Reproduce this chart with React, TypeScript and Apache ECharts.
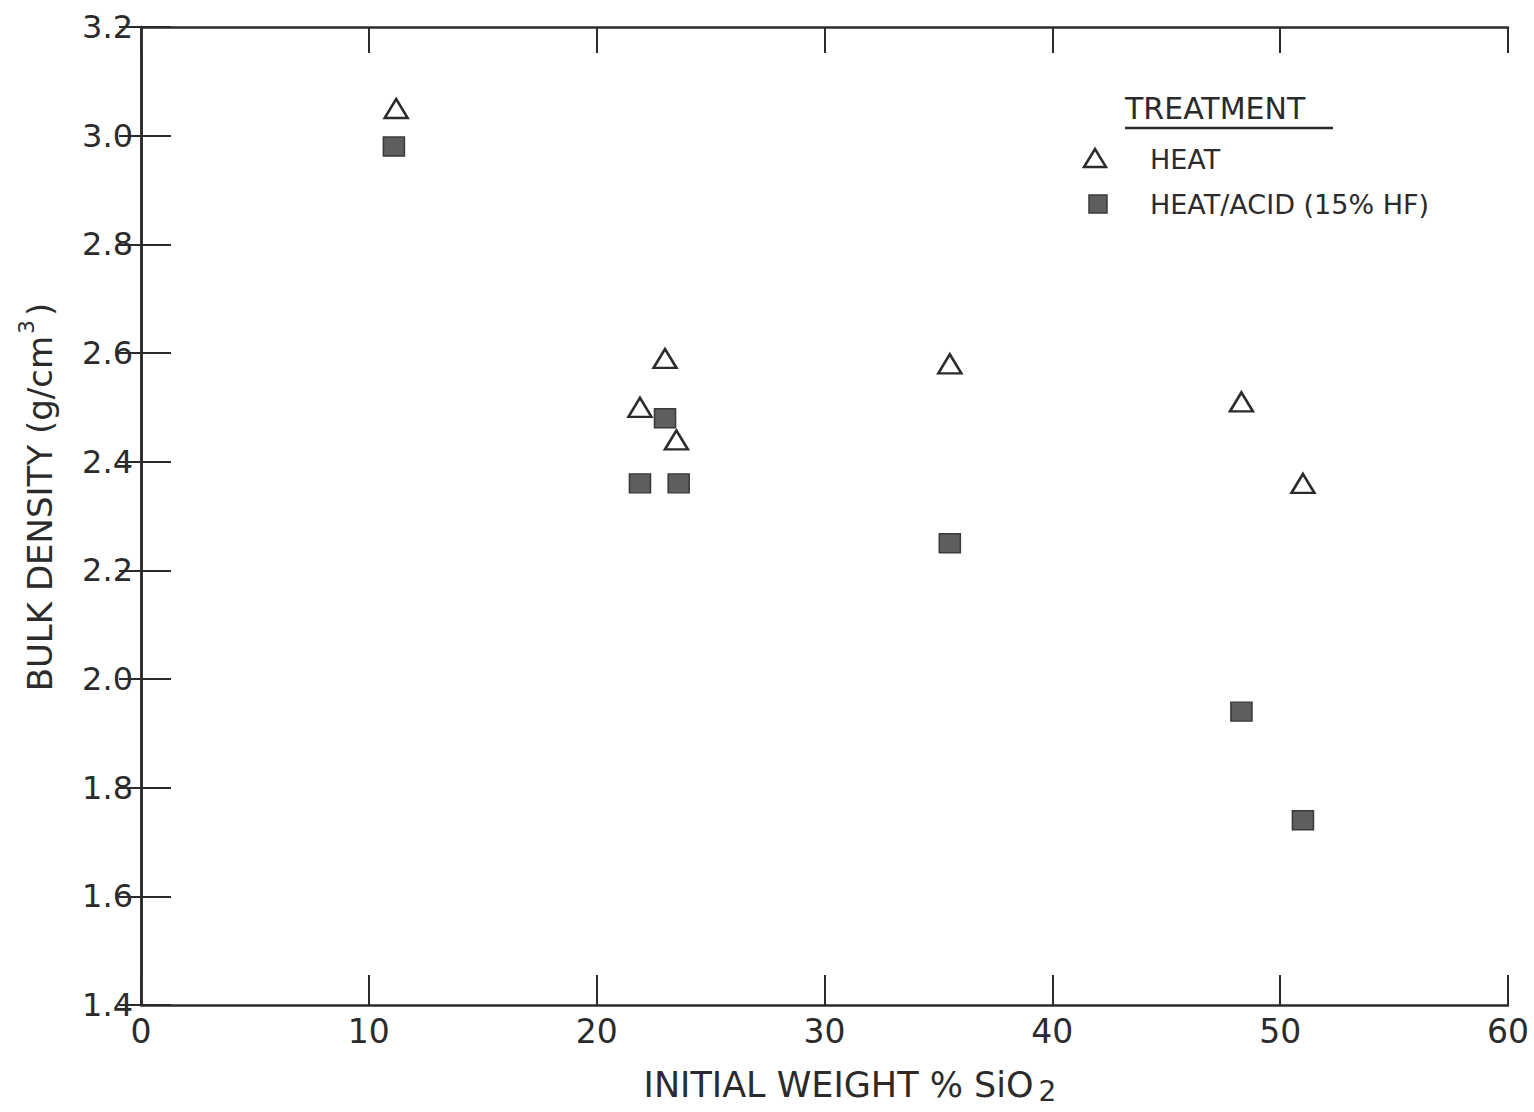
import React, { useEffect, useRef } from "react";
import * as echarts from "echarts";

// Initial weight % SiO2 (x) and bulk density g/cm3 (y)
const heatSiO2 = [11.2, 21.9, 23.0, 23.5, 35.5, 48.3, 51.0];
const heatDensity = [3.05, 2.5, 2.59, 2.44, 2.58, 2.51, 2.36];
const acidSiO2 = [11.1, 21.9, 23.0, 23.6, 35.5, 48.3, 51.0];
const acidDensity = [2.98, 2.36, 2.48, 2.36, 2.25, 1.94, 1.74];

const xTicks = { min: 0, max: 60, interval: 10 };
const yTicks = { min: 1.4, max: 3.2, interval: 0.2 };

const legendTitle = "TREATMENT";
const seriesNames = ["HEAT", "HEAT/ACID (15% HF)"];
const xName = ["INITIAL WEIGHT % SiO", "2"];
const yName = ["BULK DENSITY (g/cm", "3", ")"];

const INK = "#2b2b2b";
const FONT = "DejaVu Sans";
const SQUARE_FILL = "#5e5e5e";

export default function App() {
  const ref = useRef<HTMLDivElement>(null);

  useEffect(() => {
    document.body.style.margin = "0";
    const chart = echarts.init(ref.current!, null, { renderer: "svg" });

    const lineStyle = { color: INK, width: 2.5 };
    const baseAxis = {
      type: "value" as const,
      splitLine: { show: false },
      axisLine: { show: true, lineStyle },
    };

    chart.setOption({
      animation: false,
      backgroundColor: "#ffffff",
      grid: { left: 141, right: 26, top: 27, bottom: 107, containLabel: false },
      xAxis: [
        {
          ...baseAxis,
          position: "bottom",
          min: xTicks.min,
          max: xTicks.max,
          interval: xTicks.interval,
          axisTick: { show: true, inside: true, length: 30, lineStyle: { color: INK, width: 2 } },
          axisLabel: {
            show: true,
            margin: 10,
            fontSize: 33,
            fontFamily: FONT,
            color: INK,
            formatter: (v: number) => String(v),
          },
        },
        {
          ...baseAxis,
          position: "top",
          min: xTicks.min,
          max: xTicks.max,
          interval: xTicks.interval,
          axisTick: { show: true, inside: true, length: 26, lineStyle: { color: INK, width: 2 } },
          axisLabel: { show: false },
        },
      ],
      yAxis: [
        {
          ...baseAxis,
          position: "left",
          min: yTicks.min,
          max: yTicks.max,
          interval: yTicks.interval,
          axisTick: { show: true, inside: true, length: 30, lineStyle: { color: INK, width: 2 } },
          axisLabel: {
            show: true,
            margin: 8,
            fontSize: 32,
            fontFamily: FONT,
            color: INK,
            formatter: (v: number) => v.toFixed(1),
          },
        },
        {
          ...baseAxis,
          position: "right",
          min: yTicks.min,
          max: yTicks.max,
          interval: yTicks.interval,
          axisTick: { show: true, inside: true, length: 22, lineStyle: { color: INK, width: 2 } },
          axisLabel: { show: false },
        },
      ],
      series: [
        {
          name: seriesNames[0],
          type: "scatter",
          xAxisIndex: 0,
          yAxisIndex: 0,
          symbol: "triangle",
          symbolSize: [23, 19],
          itemStyle: { color: "#ffffff", borderColor: INK, borderWidth: 2.5, opacity: 1 },
          data: heatSiO2.map((x, i) => [x, heatDensity[i]]),
        },
        {
          name: seriesNames[1],
          type: "scatter",
          xAxisIndex: 0,
          yAxisIndex: 0,
          symbol: "rect",
          symbolSize: [21, 19],
          itemStyle: { color: SQUARE_FILL, borderColor: "#3a3a3a", borderWidth: 1.5, opacity: 1 },
          data: acidSiO2.map((x, i) => [x, acidDensity[i]]),
        },
      ],
      graphic: [
        {
          type: "text",
          x: 850,
          y: 1067,
          style: {
            text: `{a|${xName[0]}}{sub|${xName[1]}}`,
            align: "center",
            verticalAlign: "top",
            fill: INK,
            rich: {
              a: { fontSize: 35, fontFamily: FONT, fill: INK, verticalAlign: "top" },
              sub: { fontSize: 28, fontFamily: FONT, fill: INK, verticalAlign: "top", padding: [10, 0, 0, 5] },
            },
          },
        },
        {
          type: "text",
          x: 36,
          y: 497,
          rotation: Math.PI / 2,
          style: {
            text: `{a|${yName[0]}}{sup|${yName[1]}}{a|${yName[2]}}`,
            align: "center",
            verticalAlign: "middle",
            fill: INK,
            rich: {
              a: { fontSize: 34, fontFamily: FONT, fill: INK, verticalAlign: "bottom", padding: [8, 0, 0, 0] },
              sup: { fontSize: 22, fontFamily: FONT, fill: INK, verticalAlign: "top", padding: [0, 4, 0, 2] },
            },
          },
        },
        {
          type: "text",
          x: 1125,
          y: 108,
          style: {
            text: legendTitle,
            fontSize: 30,
            fontFamily: FONT,
            fill: INK,
            align: "left",
            verticalAlign: "middle",
          },
        },
        {
          type: "line",
          shape: { x1: 1125, y1: 128, x2: 1333, y2: 128 },
          style: { stroke: INK, lineWidth: 2.5 },
        },
        {
          type: "polygon",
          shape: { points: [[1084, 167], [1106, 167], [1095, 149]] },
          style: { fill: "#ffffff", stroke: INK, lineWidth: 2.5 },
        },
        {
          type: "text",
          x: 1150,
          y: 159,
          style: {
            text: seriesNames[0],
            fontSize: 27,
            fontFamily: FONT,
            fill: INK,
            align: "left",
            verticalAlign: "middle",
          },
        },
        {
          type: "rect",
          shape: { x: 1089, y: 195, width: 18, height: 18 },
          style: { fill: SQUARE_FILL, stroke: "#3a3a3a", lineWidth: 1.5 },
        },
        {
          type: "text",
          x: 1150,
          y: 204,
          style: {
            text: seriesNames[1],
            fontSize: 27,
            fontFamily: FONT,
            fill: INK,
            align: "left",
            verticalAlign: "middle",
          },
        },
      ],
    });

    return () => {
      chart.dispose();
    };
  }, []);

  return (
    <div
      ref={ref}
      style={{ position: "absolute", left: 0, top: 0, width: 1534, height: 1112, background: "#fff" }}
    />
  );
}
